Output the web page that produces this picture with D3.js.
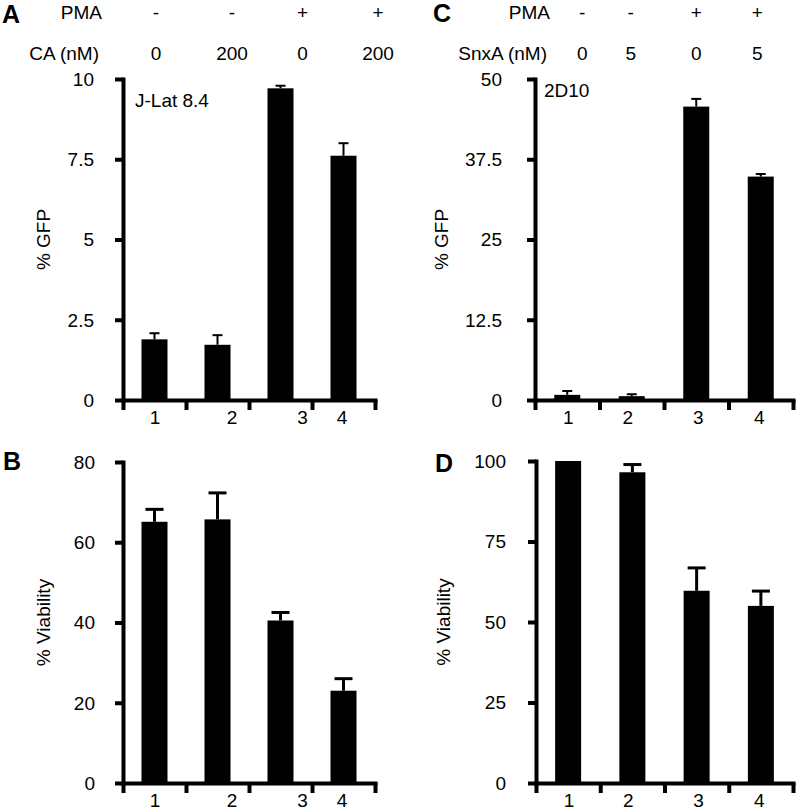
<!DOCTYPE html>
<html><head><meta charset="utf-8">
<script src="https://cdn.jsdelivr.net/npm/d3@7/dist/d3.min.js"></script>
<style>
body{margin:0;background:#fff}
text{font-family:"Liberation Sans",Arial,Helvetica,sans-serif;fill:#000}
</style>
</head><body>
<svg id="chart" width="800" height="812"></svg>
<script>
// ---------------- data ----------------
const groups = ["1", "2", "3", "4"];
const pmaRow = ["-", "-", "+", "+"];
const caRow = ["0", "200", "0", "200"];
const snxaRow = ["0", "5", "0", "5"];

const gfpA = [1.89, 1.72, 9.71, 7.61];
const gfpAErr = [0.19, 0.30, 0.08, 0.39];
const viabB = [65.1, 65.7, 40.5, 23.0];
const viabBErr = [3.1, 6.6, 2.0, 3.0];
const gfpC = [0.8, 0.6, 45.7, 34.8];
const gfpCErr = [0.6, 0.3, 1.2, 0.4];
const viabD = [100, 96.5, 59.7, 55.0];
const viabDErr = [0, 2.4, 7.1, 4.6];

const ticksA = [0, 2.5, 5, 7.5, 10];
const ticksB = [0, 20, 40, 60, 80];
const ticksC = [0, 12.5, 25, 37.5, 50];
const ticksD = [0, 25, 50, 75, 100];

// ---------------- layout ----------------
const svg = d3.select("#chart");
const FS = 19;

function panel(cfg) {
  const g = svg.append("g");
  const band = d3.scaleBand().domain(groups).range(cfg.xr).padding(0);
  const xb = d3.scaleLinear().domain([0, groups.length]).range(cfg.xr);
  const y = d3.scaleLinear().domain([0, cfg.ymax]).range(cfg.yr);
  const cx = (i) => band(groups[i]) + band.bandwidth() / 2;

  // bars
  g.selectAll("rect.bar").data(cfg.values).join("rect")
    .attr("class", "bar")
    .attr("x", (d, i) => cx(i) - cfg.barW / 2)
    .attr("width", cfg.barW)
    .attr("y", d => y(d))
    .attr("height", d => y(0) - y(d))
    .attr("fill", "#000");

  // error bars (upper only)
  const eb = g.selectAll("g.err").data(cfg.values.map((v, i) => ({v, e: cfg.errs[i], i})).filter(d => d.e > 0))
    .join("g").attr("class", "err");
  eb.append("line")
    .attr("x1", d => cx(d.i)).attr("x2", d => cx(d.i))
    .attr("y1", d => y(d.v)).attr("y2", d => y(d.v + d.e))
    .attr("stroke", "#000").attr("stroke-width", cfg.errW);
  eb.append("line")
    .attr("x1", d => cx(d.i) - cfg.capW / 2).attr("x2", d => cx(d.i) + cfg.capW / 2)
    .attr("y1", d => y(d.v + d.e)).attr("y2", d => y(d.v + d.e))
    .attr("stroke", "#000").attr("stroke-width", cfg.errW);

  // y axis
  const ya = g.append("g").attr("transform", `translate(${cfg.xr[0]},0)`)
    .call(d3.axisLeft(y).tickValues(cfg.ticks).tickSize(8).tickSizeOuter(0).tickFormat(() => ""));
  ya.selectAll("path,line").attr("stroke", "#000").attr("stroke-width", 4).attr("stroke-linecap", "square");
  ya.selectAll(".tick line").attr("stroke-linecap", "butt");

  // x axis (ticks at group boundaries)
  const xa = g.append("g").attr("transform", `translate(0,${cfg.yr[0]})`)
    .call(d3.axisBottom(xb).tickValues(d3.range(groups.length + 1)).tickSize(10).tickSizeOuter(0).tickFormat(() => ""));
  xa.selectAll("path,line").attr("stroke", "#000").attr("stroke-width", 4);
  xa.select("path").attr("stroke-linecap", "square");

  // y tick labels
  g.selectAll("text.yt").data(cfg.ticks).join("text")
    .attr("class", "yt")
    .attr("x", cfg.ytX).attr("y", d => y(d)).attr("dy", "0.36em")
    .attr("text-anchor", "end").attr("font-size", FS)
    .text(d => String(d));

  // x category labels
  g.selectAll("text.xt").data(groups).join("text")
    .attr("class", "xt")
    .attr("x", (d, i) => cx(i) + cfg.labOff[i]).attr("y", cfg.xtY)
    .attr("text-anchor", "middle").attr("font-size", FS)
    .text(d => d);

  // y axis title
  const my = (cfg.yr[0] + cfg.yr[1]) / 2;
  g.append("text")
    .attr("transform", `translate(${cfg.titleX},${my}) rotate(-90)`)
    .attr("text-anchor", "middle").attr("font-size", FS)
    .text(cfg.title);

  // panel letter
  g.append("text").attr("x", cfg.letterX).attr("y", cfg.letterY)
    .attr("font-size", 25).attr("font-weight", "bold").text(cfg.letter);

  // header rows
  if (cfg.rows) {
    cfg.rows.forEach(r => {
      g.append("text").attr("x", r.labelX).attr("y", r.y).attr("text-anchor", "end")
        .attr("font-size", FS).text(r.label);
      g.selectAll(null).data(r.vals).join("text")
        .attr("x", (d, i) => cx(i) + cfg.headOff[i]).attr("y", r.y)
        .attr("text-anchor", "middle").attr("font-size", FS).text(d => d);
    });
  }
  if (cfg.note) {
    g.append("text").attr("x", cfg.note.x).attr("y", cfg.note.y).attr("font-size", FS).text(cfg.note.t);
  }
}

panel({
  letter: "A", letterX: 2, letterY: 23,
  xr: [123, 375], yr: [400, 79], ymax: 10, ticks: ticksA,
  values: gfpA, errs: gfpAErr, barW: 26, errW: 2, capW: 10,
  ytX: 94, xtY: 424, labOff: [0.5, 14.5, 22, -1.5],
  title: "% GFP", titleX: 50,
  headOff: [1.5, 14.5, 22, 34.5],
  rows: [{label: "PMA", labelX: 102, y: 19, vals: pmaRow},
         {label: "CA (nM)", labelX: 99, y: 60, vals: caRow}],
  note: {x: 135, y: 107, t: "J-Lat 8.4"}
});

panel({
  letter: "B", letterX: 3, letterY: 470,
  xr: [123, 375], yr: [783, 462], ymax: 80, ticks: ticksB,
  values: viabB, errs: viabBErr, barW: 26, errW: 3, capW: 18,
  ytX: 95, xtY: 807, labOff: [0.5, 14.5, 22, -1.5],
  title: "% Viability", titleX: 50
});

panel({
  letter: "C", letterX: 433, letterY: 22,
  xr: [535, 793], yr: [400, 79], ymax: 50, ticks: ticksC,
  values: gfpC, errs: gfpCErr, barW: 26, errW: 2, capW: 10,
  ytX: 502, xtY: 424, labOff: [1, -4, 2, -1.5],
  title: "% GFP", titleX: 448,
  headOff: [15, -1, 0, -3.5],
  rows: [{label: "PMA", labelX: 550, y: 19, vals: pmaRow},
         {label: "SnxA (nM)", labelX: 547, y: 60, vals: snxaRow}],
  note: {x: 544, y: 97, t: "2D10"}
});

panel({
  letter: "D", letterX: 435, letterY: 472,
  xr: [536, 793], yr: [783, 461], ymax: 100, ticks: ticksD,
  values: viabD, errs: viabDErr, barW: 26, errW: 3, capW: 18,
  ytX: 506, xtY: 807, labOff: [1, -4, 2, -1.5],
  title: "% Viability", titleX: 450
});
</script>
</body></html>
